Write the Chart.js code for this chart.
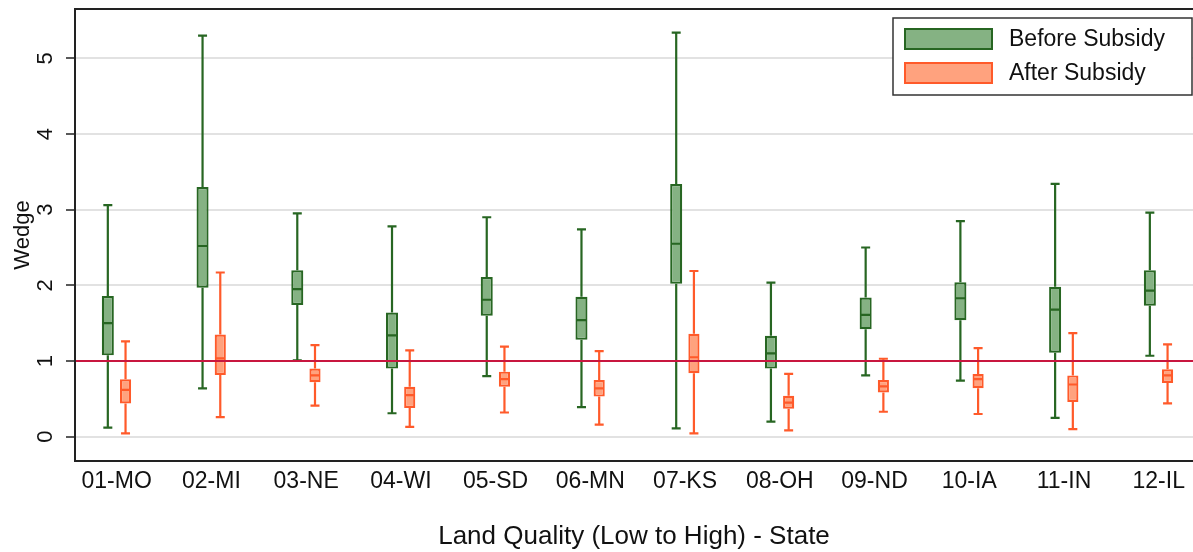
<!DOCTYPE html>
<html>
<head>
<meta charset="utf-8">
<title>Wedge by land quality and state</title>
<script src="https://cdn.jsdelivr.net/npm/chart.js@4.4.1/dist/chart.umd.min.js"></script>
<style>
  html, body { margin: 0; padding: 0; background: #ffffff; }
  #wrap { width: 1193px; height: 552px; position: relative; }
</style>
</head>
<body>
<div id="wrap"><canvas id="chart"></canvas></div>
<script>
// States ordered by land quality (low to high)
const states = ['01-MO', '02-MI', '03-NE', '04-WI', '05-SD', '06-MN',
                '07-KS', '08-OH', '09-ND', '10-IA', '11-IN', '12-IL'];

// Before subsidy: five-number summaries per state
const beforeMin = [0.12, 0.64, 1.01, 0.31, 0.80, 0.39, 0.11, 0.20, 0.81, 0.74, 0.25, 1.07];
const beforeQ1  = [1.075, 1.97, 1.74, 0.90, 1.60, 1.28, 2.02, 0.90, 1.42, 1.54, 1.11, 1.73];
const beforeMed = [1.50, 2.52, 1.95, 1.34, 1.81, 1.54, 2.55, 1.10, 1.61, 1.83, 1.68, 1.93];
const beforeQ3  = [1.86, 3.30, 2.20, 1.64, 2.11, 1.85, 3.34, 1.335, 1.84, 2.04, 1.98, 2.20];
const beforeMax = [3.06, 5.30, 2.95, 2.78, 2.90, 2.74, 5.34, 2.035, 2.50, 2.85, 3.34, 2.96];

// After subsidy: five-number summaries per state
const afterMin = [0.044, 0.26, 0.41, 0.13, 0.32, 0.16, 0.044, 0.084, 0.33, 0.30, 0.10, 0.44];
const afterQ1  = [0.44, 0.815, 0.72, 0.38, 0.66, 0.53, 0.84, 0.37, 0.585, 0.64, 0.46, 0.71];
const afterMed = [0.62, 1.035, 0.81, 0.55, 0.76, 0.64, 1.05, 0.45, 0.665, 0.76, 0.69, 0.81];
const afterQ3  = [0.76, 1.35, 0.90, 0.66, 0.86, 0.75, 1.36, 0.54, 0.75, 0.83, 0.81, 0.89];
const afterMax = [1.26, 2.17, 1.21, 1.14, 1.19, 1.13, 2.19, 0.83, 1.03, 1.17, 1.37, 1.22];

// Y axis ticks and the reference wedge of one
const yTicks = [0, 1, 2, 3, 4, 5];
const refLine = 1;

const FONT = '"Liberation Sans", Arial, Helvetica, sans-serif';

const GREEN_FILL = '#85b283';
const GREEN_LINE = '#276622';
const ORANGE_FILL = '#ffa27e';
const ORANGE_LINE = '#ff5a2a';

function boxes(q1, q3) {
  return q1.map((v, i) => ({ x: i + 1, y: [v, q3[i]] }));
}

// Whiskers, caps and medians drawn on top of the floating-bar boxes
const boxParts = {
  id: 'boxParts',
  afterDatasetsDraw(chart) {
    const ctx = chart.ctx;
    const ys = chart.scales.y;
    chart.data.datasets.forEach((ds, di) => {
      const meta = chart.getDatasetMeta(di);
      const s = ds.summary;
      ctx.save();
      ctx.strokeStyle = ds.borderColor;
      ctx.lineWidth = 2.2;
      ctx.lineCap = 'butt';
      meta.data.forEach((bar, i) => {
        const x = bar.x;
        const half = bar.width / 2;
        const pMin = ys.getPixelForValue(s.min[i]);
        const pQ1 = ys.getPixelForValue(s.q1[i]);
        const pMed = ys.getPixelForValue(s.med[i]);
        const pQ3 = ys.getPixelForValue(s.q3[i]);
        const pMax = ys.getPixelForValue(s.max[i]);
        const cap = 4.5;
        ctx.beginPath();
        ctx.moveTo(x, pQ3); ctx.lineTo(x, pMax);
        ctx.moveTo(x, pQ1); ctx.lineTo(x, pMin);
        ctx.moveTo(x - cap, pMax); ctx.lineTo(x + cap, pMax);
        ctx.moveTo(x - cap, pMin); ctx.lineTo(x + cap, pMin);
        ctx.moveTo(x - half + 1, pMed); ctx.lineTo(x + half - 1, pMed);
        ctx.stroke();
      });
      ctx.restore();
    });
    // reference line at a wedge of one
    const area = chart.chartArea;
    const py = ys.getPixelForValue(refLine);
    ctx.save();
    ctx.strokeStyle = '#c8163f';
    ctx.lineWidth = 2;
    ctx.beginPath();
    ctx.moveTo(area.left + 1, py);
    ctx.lineTo(area.right, py);
    ctx.stroke();
    ctx.restore();
  },
  afterDraw(chart) {
    const ctx = chart.ctx;
    const area = chart.chartArea;
    // top edge of the plot frame
    ctx.save();
    ctx.strokeStyle = '#222222';
    ctx.lineWidth = 2;
    ctx.beginPath();
    ctx.moveTo(area.left - 1, area.top);
    ctx.lineTo(area.right, area.top);
    ctx.stroke();

    // boxed legend in the upper right corner
    const lx = 893, ly = 18, lw = 299, lh = 77;
    ctx.fillStyle = '#ffffff';
    ctx.fillRect(lx, ly, lw, lh);
    ctx.strokeStyle = '#333333';
    ctx.lineWidth = 1.5;
    ctx.strokeRect(lx, ly, lw, lh);
    ctx.font = '23px ' + FONT;
    ctx.textBaseline = 'middle';
    ctx.textAlign = 'left';
    chart.data.datasets.forEach((ds, i) => {
      const sy = 28 + i * 34;
      ctx.fillStyle = ds.backgroundColor;
      ctx.fillRect(904, sy, 89, 22);
      ctx.strokeStyle = ds.borderColor;
      ctx.lineWidth = 2;
      ctx.strokeRect(905, sy + 1, 87, 20);
      ctx.fillStyle = '#111111';
      ctx.fillText(ds.label, 1009, sy + 12);
    });
    ctx.restore();
  }
};

new Chart(document.getElementById('chart'), {
  type: 'bar',
  data: {
    datasets: [
      {
        label: 'Before Subsidy',
        data: boxes(beforeQ1, beforeQ3),
        summary: { min: beforeMin, q1: beforeQ1, med: beforeMed, q3: beforeQ3, max: beforeMax },
        backgroundColor: GREEN_FILL,
        borderColor: GREEN_LINE,
        borderWidth: 2.2,
        borderSkipped: false,
        categoryPercentage: 0.374,
        barPercentage: 0.68
      },
      {
        label: 'After Subsidy',
        data: boxes(afterQ1, afterQ3),
        summary: { min: afterMin, q1: afterQ1, med: afterMed, q3: afterQ3, max: afterMax },
        backgroundColor: ORANGE_FILL,
        borderColor: ORANGE_LINE,
        borderWidth: 2.2,
        borderSkipped: false,
        categoryPercentage: 0.374,
        barPercentage: 0.63
      }
    ]
  },
  options: {
    responsive: true,
    maintainAspectRatio: false,
    animation: false,
    events: [],
    layout: { padding: { top: 9, left: 0, right: 0, bottom: 0 } },
    plugins: {
      legend: { display: false },
      tooltip: { enabled: false }
    },
    scales: {
      x: {
        type: 'linear',
        offset: false,
        min: 0.56,
        max: 12.362,
        afterBuildTicks: axis => { axis.ticks = states.map((s, i) => ({ value: i + 1 })); },
        afterFit: axis => {
          axis.height = 91;
          axis.paddingLeft = 0; axis.paddingRight = 0;
          axis.paddingTop = 0; axis.paddingBottom = 0;
        },
        grid: { display: false, drawTicks: false, offset: false },
        border: { display: true, color: '#222222', width: 2 },
        ticks: {
          padding: 7,
          maxRotation: 0,
          autoSkip: false,
          color: '#111111',
          font: { family: FONT, size: 23 },
          callback: (value, index) => states[index]
        },
        title: {
          display: true,
          text: 'Land Quality (Low to High) - State',
          color: '#111111',
          font: { family: FONT, size: 26 },
          padding: { top: 0, bottom: 0 }
        }
      },
      y: {
        type: 'linear',
        min: -0.321,
        max: 5.652,
        afterBuildTicks: axis => { axis.ticks = yTicks.map(v => ({ value: v })); },
        afterFit: axis => {
          axis.width = 75;
          axis.paddingTop = 0; axis.paddingBottom = 0;
          axis.paddingLeft = 0; axis.paddingRight = 0;
        },
        grid: {
          color: '#e2e2e2',
          lineWidth: 2,
          tickColor: '#222222',
          tickLength: 9,
          tickWidth: 1.5
        },
        border: { display: true, color: '#222222', width: 2 },
        ticks: {
          minRotation: 90,
          maxRotation: 90,
          crossAlign: 'center',
          padding: 14,
          color: '#111111',
          font: { family: FONT, size: 22 }
        },
        title: {
          display: true,
          text: 'Wedge',
          color: '#111111',
          font: { family: FONT, size: 22 },
          padding: { top: 10, bottom: 0 }
        }
      }
    }
  },
  plugins: [boxParts]
});
</script>
</body>
</html>
